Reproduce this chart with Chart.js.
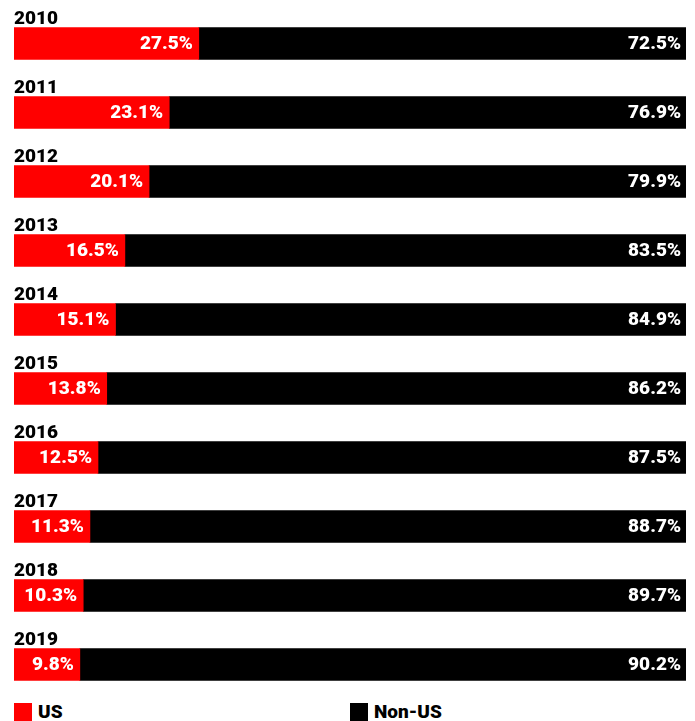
<!DOCTYPE html>
<html>
<head>
<meta charset="utf-8">
<script src="https://cdn.jsdelivr.net/npm/chart.js@4/dist/chart.umd.min.js"></script>
<style>
  html, body { margin: 0; padding: 0; background: #fff; }
  #wrap { position: relative; width: 695px; height: 721px; overflow: hidden; }
  #c { position: absolute; left: 0; top: 0; }
  .leg { position: absolute; top: 702px; display: flex; align-items: center; font: 900 19px Roboto, sans-serif; color: #000; line-height: 19px; }
  .sw { width: 18px; height: 18px; margin-right: 6px; display: inline-block; }
</style>
</head>
<body>
<div id="wrap">
  <canvas id="c" width="695" height="700"></canvas>
  <div class="leg" style="left:14px"><span class="sw" style="background:#ff0000"></span>US</div>
  <div class="leg" style="left:350px"><span class="sw" style="background:#000000"></span>Non-US</div>
</div>
<script>
const years = ['2010','2011','2012','2013','2014','2015','2016','2017','2018','2019'];
const usShare = [27.5, 23.1, 20.1, 16.5, 15.1, 13.8, 12.5, 11.3, 10.3, 9.8];
const nonUsShare = [72.5, 76.9, 79.9, 83.5, 84.9, 86.2, 87.5, 88.7, 89.7, 90.2];

const labelPlugin = {
  id: 'labels',
  afterDatasetsDraw(chart) {
    const ctx = chart.ctx;
    ctx.save();
    ctx.font = '900 19px Roboto, sans-serif';
    ctx.textBaseline = 'middle';
    chart.data.datasets.forEach((ds, di) => {
      const meta = chart.getDatasetMeta(di);
      meta.data.forEach((bar, i) => {
        const v = ds.data[i];
        ctx.fillStyle = '#ffffff';
        ctx.textAlign = 'right';
        ctx.fillText(v.toFixed(1) + '%', bar.x - (di === 0 ? 6 : 5), bar.y + 1);
        if (di === 0) {
          ctx.fillStyle = '#000000';
          ctx.textAlign = 'left';
          ctx.textBaseline = 'alphabetic';
          ctx.fillText(chart.data.labels[i], chart.chartArea.left, bar.y - bar.height / 2 - 4);
          ctx.textBaseline = 'middle';
        }
      });
    });
    ctx.restore();
  }
};

new Chart(document.getElementById('c'), {
  type: 'bar',
  data: {
    labels: years,
    datasets: [
      { label: 'US', data: usShare, backgroundColor: '#ff0000', borderWidth: 0, barThickness: 32 },
      { label: 'Non-US', data: nonUsShare, backgroundColor: '#000000', borderWidth: 0, barThickness: 32 }
    ]
  },
  options: {
    indexAxis: 'y',
    responsive: false,
    animation: false,
    layout: { padding: { top: 9, bottom: 1, left: 14, right: 9 } },
    plugins: { legend: { display: false }, tooltip: { enabled: false } },
    scales: {
      x: { stacked: true, min: 0, max: 100, display: false },
      y: { stacked: true, display: false }
    }
  },
  plugins: [labelPlugin]
});
</script>
</body>
</html>
